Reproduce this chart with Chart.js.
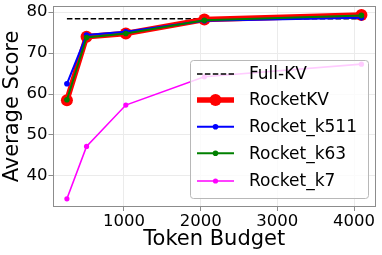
<!DOCTYPE html>
<html><head><meta charset="utf-8">
<script src="https://cdn.jsdelivr.net/npm/chart.js@4.4.1/dist/chart.umd.min.js"></script>
<style>html,body{margin:0;padding:0;background:#fff;overflow:hidden}#wrap{width:382px;height:255px;position:relative}</style>
</head><body><div id="wrap"><canvas id="c" width="382" height="255"></canvas></div>
<script>
const budgets = [256, 512, 1024, 2048, 4096];
const fullKV = [78.4, 78.4, 78.4, 78.4, 78.4];
const rocketKV = [58.5, 74.0, 74.8, 78.2, 79.3];
const rocketK511 = [62.5, 74.4, 75.2, 77.9, 78.6];
const rocketK63 = [58.6, 73.8, 74.8, 78.0, 79.2];
const rocketK7 = [34.4, 47.2, 57.3, 64.2, 67.3];
const xTicks = [1000, 2000, 3000, 4000];
const yTicks = [40, 50, 60, 70, 80];
const seriesLabels = ['Full-KV', 'RocketKV', 'Rocket_k511', 'Rocket_k63', 'Rocket_k7'];

const FONT = '"DejaVu Sans", "Liberation Sans", sans-serif';
const pts = arr => budgets.map((x, i) => ({x: x, y: arr[i]}));

const framePlugin = {
  id: 'frame',
  afterDatasetsDraw(chart) {
    const a = chart.chartArea, ctx = chart.ctx;
    ctx.save();
    ctx.strokeStyle = '#8c8c8c';
    ctx.lineWidth = 1;
    ctx.strokeRect(Math.round(a.left) + 0.5, Math.round(a.top) + 0.5,
      Math.round(a.right) - Math.round(a.left) - 1, Math.round(a.bottom) - Math.round(a.top) - 1);
    ctx.restore();
  }
};

const legendPlugin = {
  id: 'boxLegend',
  afterDatasetsDraw(chart) {
    const ctx = chart.ctx;
    const x0 = 190.5, y0 = 60.5, w = 178, h = 138;
    ctx.save();
    ctx.beginPath();
    ctx.roundRect(x0, y0, w, h, 3);
    ctx.fillStyle = 'rgba(255,255,255,0.8)';
    ctx.fill();
    ctx.strokeStyle = '#b8b8b8';
    ctx.lineWidth = 1;
    ctx.stroke();
    const rows = [74, 100, 126.7, 153.3, 181];
    chart.data.datasets.forEach((ds, i) => {
      const y = rows[i];
      ctx.beginPath();
      ctx.setLineDash(ds.borderDash || []);
      ctx.strokeStyle = ds.borderColor;
      ctx.lineWidth = ds.borderWidth;
      ctx.moveTo(197, y); ctx.lineTo(234, y);
      ctx.stroke();
      ctx.setLineDash([]);
      if (ds.pointRadius > 0) {
        ctx.beginPath();
        ctx.arc(215.5, y, ds.pointRadius, 0, Math.PI * 2);
        ctx.fillStyle = ds.pointBackgroundColor;
        ctx.fill();
      }
      ctx.fillStyle = '#000';
      ctx.font = '17px ' + FONT;
      ctx.textBaseline = 'middle';
      ctx.fillText(ds.label, 249, y + 1);
    });
    ctx.restore();
  }
};

new Chart(document.getElementById('c'), {
  type: 'line',
  data: {
    datasets: [
      {label: seriesLabels[0], data: pts(fullKV), borderColor: '#000', backgroundColor: '#000',
        borderWidth: 1.5, borderDash: [5.5, 2.4], pointRadius: 0, order: 5, clip: false},
      {label: seriesLabels[1], data: pts(rocketKV), borderColor: '#ff0000', backgroundColor: '#ff0000',
        pointBackgroundColor: '#ff0000', pointBorderWidth: 0, borderWidth: 5.5, pointRadius: 6, order: 4, clip: false},
      {label: seriesLabels[2], data: pts(rocketK511), borderColor: '#0000ff', backgroundColor: '#0000ff',
        pointBackgroundColor: '#0000ff', pointBorderWidth: 0, borderWidth: 2, pointRadius: 2.8, order: 3, clip: false},
      {label: seriesLabels[3], data: pts(rocketK63), borderColor: '#008000', backgroundColor: '#008000',
        pointBackgroundColor: '#008000', pointBorderWidth: 0, borderWidth: 2, pointRadius: 2.8, order: 2, clip: false},
      {label: seriesLabels[4], data: pts(rocketK7), borderColor: '#ff00ff', backgroundColor: '#ff00ff',
        pointBackgroundColor: '#ff00ff', pointBorderWidth: 0, borderWidth: 1.6, pointRadius: 2.6, order: 1, clip: false}
    ]
  },
  options: {
    responsive: false,
    animation: false,
    devicePixelRatio: 1,
    layout: {padding: {left: 0, right: 5, top: 4, bottom: 0}},
    elements: {line: {tension: 0}, point: {hoverRadius: 0}},
    plugins: {legend: {display: false}, tooltip: {enabled: false}},
    scales: {
      x: {
        type: 'linear', min: 68, max: 4286,
        afterBuildTicks: s => { s.ticks = xTicks.map(v => ({value: v})); },
        afterFit: s => { s.height = 48; s.paddingLeft = 0; s.paddingRight = 0; },
        ticks: {callback: v => String(v), color: '#000', font: {family: FONT, size: 16.5}, padding: 1, maxRotation: 0, autoSkip: false},
        grid: {color: '#ebebeb', lineWidth: 1, tickLength: 4, tickColor: '#8c8c8c', tickWidth: 1},
        border: {display: false},
        title: {display: true, text: 'Token Budget', color: '#000', font: {family: FONT, size: 21}, padding: {top: 0, bottom: 3}}
      },
      y: {
        type: 'linear', min: 32.4, max: 81.5,
        afterBuildTicks: s => { s.ticks = yTicks.map(v => ({value: v})); },
        afterFit: s => { s.width = 52.5; s.paddingTop = 0; s.paddingBottom = 0; },
        ticks: {callback: v => String(v), color: '#000', font: {family: FONT, size: 16.5}, padding: 1, autoSkip: false},
        grid: {color: '#ebebeb', lineWidth: 1, tickLength: 4, tickColor: '#8c8c8c', tickWidth: 1},
        border: {display: false},
        title: {display: true, text: 'Average Score', color: '#000', font: {family: FONT, size: 21}, padding: {top: 0, bottom: 0}}
      }
    }
  },
  plugins: [framePlugin, legendPlugin]
});
</script>
</body></html>
